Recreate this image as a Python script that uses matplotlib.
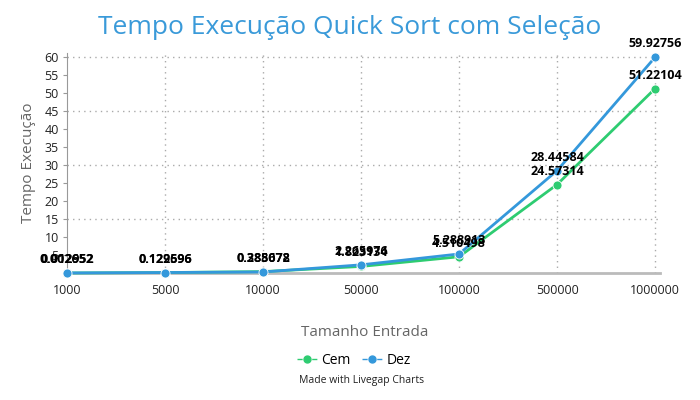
import matplotlib.pyplot as plt
from matplotlib.lines import Line2D

plt.rcParams['font.family'] = ['Open Sans', 'DejaVu Sans']

categorias = ["1000", "5000", "10000", "50000", "100000", "500000", "1000000"]
cem = [0.002652, 0.122596, 0.388078, 1.823134, 4.510498, 24.57314, 51.22104]
dez = [0.012952, 0.129696, 0.285672, 2.265976, 5.288913, 28.44584, 59.92756]
rotulos_cem = ["0.002652", "0.122596", "0.388078", "1.823134", "4.510498", "24.57314", "51.22104"]
rotulos_dez = ["0.012952", "0.129696", "0.285672", "2.265976", "5.288913", "28.44584", "59.92756"]
yticks = [5, 10, 15, 20, 25, 30, 35, 40, 45, 50, 55, 60]

verde = "#2ecc71"
azul = "#3498db"

fig = plt.figure(figsize=(7, 4), dpi=100)
ax = fig.add_axes([67/700, 1 - 273/400, (660 - 67)/700, (273 - 53)/400])
x = list(range(len(categorias)))

ax.plot(x, cem, color=verde, lw=2, marker="o", ms=6.5, mec="white", mew=0.6, zorder=3, clip_on=False)
ax.plot(x, dez, color=azul, lw=2, marker="o", ms=6.5, mec="white", mew=0.6, zorder=3, clip_on=False)

for xi, v, t in zip(x, cem, rotulos_cem):
    ax.annotate(t, (xi, v), xytext=(0, 5), textcoords="offset points", ha="center",
                va="bottom", fontsize=9, fontweight="bold", color="black")
for xi, v, t in zip(x, dez, rotulos_dez):
    ax.annotate(t, (xi, v), xytext=(0, 5), textcoords="offset points", ha="center",
                va="bottom", fontsize=9, fontweight="bold", color="black")

ax.set_xlim(0, 6.05)
ax.set_ylim(0, 61.1)
ax.set_xticks(x)
ax.set_xticklabels(categorias, fontsize=9, color="#222222")
ax.set_yticks(yticks)
ax.set_yticklabels([str(t) for t in yticks], fontsize=9, color="#222222")
ax.tick_params(axis="x", length=0, pad=8)
ax.tick_params(axis="y", length=3, color="#999999", pad=3)

for g in [15, 30, 45, 60]:
    ax.axhline(g, color="#aaaaaa", lw=1, ls=(0, (1, 3)), zorder=0)
for xi in x[1:]:
    ax.axvline(xi, color="#aaaaaa", lw=1, ls=(0, (1, 3)), zorder=0)

for s in ["top", "right"]:
    ax.spines[s].set_visible(False)
ax.spines["left"].set_color("#999999")
ax.spines["bottom"].set_color("#bbbbbb")
ax.spines["bottom"].set_linewidth(2)

ax.set_ylabel("Tempo Execução", fontsize=11, color="#666666", labelpad=6)
fig.text(0.5, 1 - 27/400, "Tempo Execução Quick Sort com Seleção", ha="center", va="center",
         fontsize=19, color="#3a9ad9")
fig.text(365/700, 1 - 333/400, "Tamanho Entrada", ha="center", va="center", fontsize=11, color="#666666")

handles = [Line2D([0], [0], color=verde, ls="--", lw=1, marker="o", ms=5),
           Line2D([0], [0], color=azul, ls="--", lw=1, marker="o", ms=5)]
fig.legend(handles, ["Cem", "Dez"], loc="center", bbox_to_anchor=(354/700, 1 - 360/400), ncol=2,
           frameon=False, fontsize=10, handlelength=1.5, handletextpad=0.3, columnspacing=0.8)
fig.text(362/700, 1 - 380/400, "Made with Livegap Charts", ha="center", va="center", fontsize=7.5, color="#222222")

fig.savefig("out.png", dpi=100)
